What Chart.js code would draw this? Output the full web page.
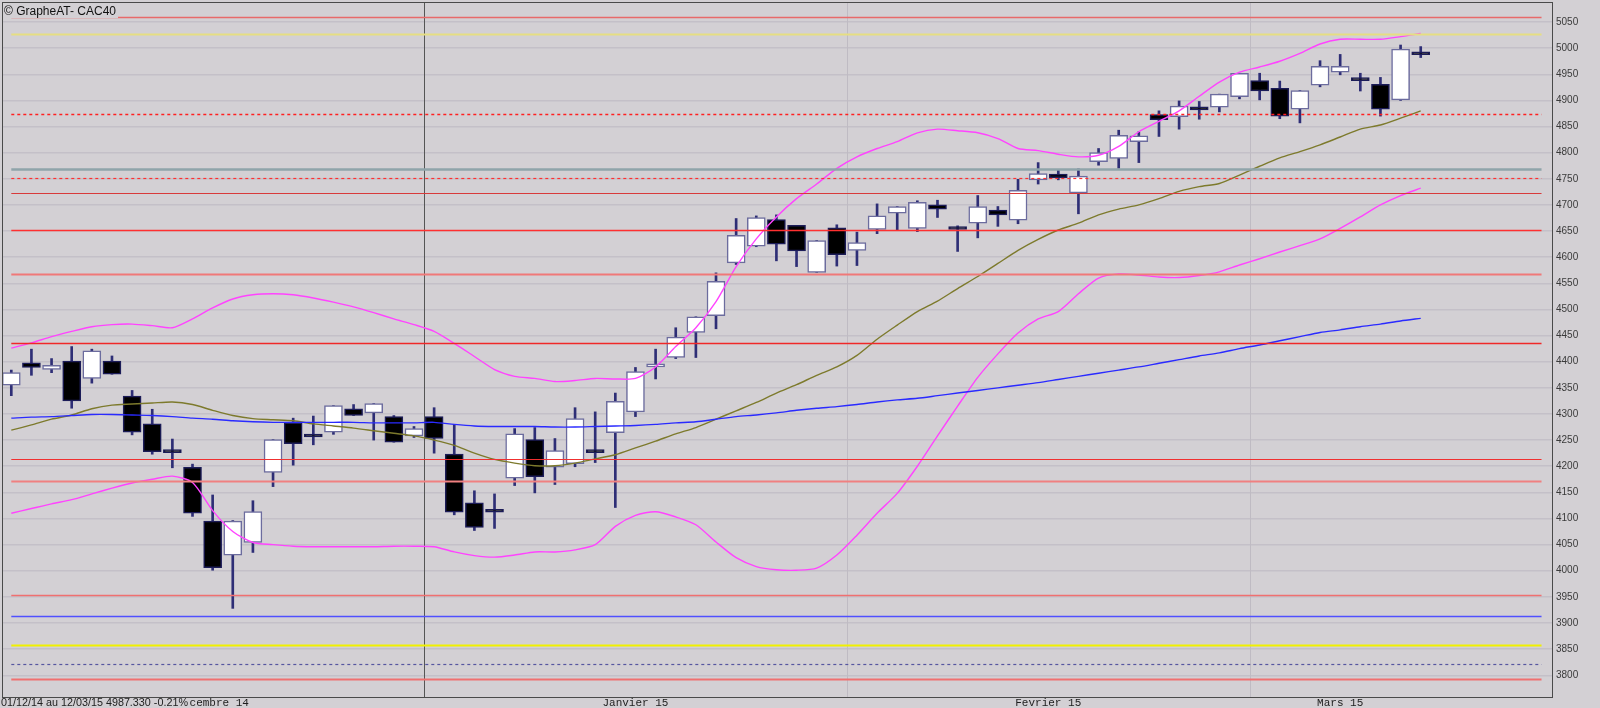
<!DOCTYPE html>
<html>
<head>
<meta charset="utf-8">
<script src="https://cdn.jsdelivr.net/npm/chart.js@4.4.1/dist/chart.umd.min.js"></script>
<style>
    html, body { margin: 0; padding: 0; background: #d3d0d4; }
    canvas { display: block; }
</style>
</head>
<body>
<canvas id="cac40-chart" width="1600" height="708"></canvas>
<script>
const dates = [
    '01/12/14', '02/12/14', '03/12/14', '04/12/14', '05/12/14', '08/12/14', '09/12/14', '10/12/14', '11/12/14', '12/12/14',
    '15/12/14', '16/12/14', '17/12/14', '18/12/14', '19/12/14', '22/12/14', '23/12/14', '24/12/14', '29/12/14', '30/12/14', '31/12/14',
    '02/01/15', '05/01/15', '06/01/15', '07/01/15', '08/01/15', '09/01/15', '12/01/15', '13/01/15', '14/01/15', '15/01/15',
    '16/01/15', '19/01/15', '20/01/15', '21/01/15', '22/01/15', '23/01/15', '26/01/15', '27/01/15', '28/01/15', '29/01/15', '30/01/15',
    '02/02/15', '03/02/15', '04/02/15', '05/02/15', '06/02/15', '09/02/15', '10/02/15', '11/02/15', '12/02/15', '13/02/15',
    '16/02/15', '17/02/15', '18/02/15', '19/02/15', '20/02/15', '23/02/15', '24/02/15', '25/02/15', '26/02/15', '27/02/15',
    '02/03/15', '03/03/15', '04/03/15', '05/03/15', '06/03/15', '09/03/15', '10/03/15', '11/03/15', '12/03/15'
];

const opens = [
    4355, 4398, 4385, 4401, 4368, 4401, 4334, 4281, 4228, 4198,
    4095, 4030, 4054, 4188, 4283, 4258, 4265, 4310, 4302, 4295, 4258,
    4295, 4223, 4130, 4114, 4177, 4251, 4198, 4205, 4228, 4264,
    4304, 4390, 4408, 4456, 4488, 4589, 4621, 4672, 4661, 4571, 4656,
    4613, 4653, 4684, 4655, 4700, 4655, 4665, 4690, 4671, 4748,
    4759, 4723, 4783, 4789, 4821, 4873, 4869, 4886, 4887, 4907,
    4938, 4923, 4883, 4929, 4954, 4940, 4931, 4901, 4992
];
const highs = [
    4384, 4424, 4406, 4429, 4424, 4411, 4345, 4309, 4252, 4204,
    4145, 4096, 4134, 4251, 4292, 4296, 4316, 4318, 4320, 4297, 4276,
    4312, 4280, 4153, 4147, 4272, 4274, 4253, 4312, 4304, 4340,
    4389, 4424, 4465, 4486, 4570, 4674, 4679, 4681, 4661, 4632, 4662,
    4648, 4702, 4697, 4708, 4709, 4660, 4718, 4697, 4749, 4781,
    4768, 4769, 4808, 4843, 4840, 4880, 4899, 4898, 4912, 4952,
    4952, 4937, 4919, 4976, 4988, 4952, 4944, 5006, 5003
];
const lows = [
    4335, 4374, 4379, 4311, 4359, 4376, 4260, 4223, 4197, 4104,
    4001, 3928, 4035, 4161, 4202, 4241, 4261, 4297, 4250, 4246, 4255,
    4225, 4107, 4077, 4081, 4163, 4149, 4165, 4199, 4207, 4121,
    4295, 4367, 4406, 4408, 4463, 4586, 4620, 4593, 4582, 4571, 4583,
    4584, 4645, 4652, 4649, 4676, 4611, 4637, 4659, 4664, 4740,
    4748, 4683, 4776, 4770, 4781, 4831, 4845, 4864, 4878, 4903,
    4901, 4865, 4857, 4926, 4949, 4918, 4870, 4900, 4982
];
const closes = [
    4379, 4389, 4393, 4325, 4421, 4376, 4265, 4228, 4226, 4110,
    4006, 4095, 4113, 4251, 4243, 4256, 4316, 4297, 4320, 4246, 4272,
    4253, 4112, 4083, 4112, 4262, 4180, 4230, 4291, 4226, 4324,
    4381, 4396, 4447, 4486, 4554, 4642, 4676, 4625, 4612, 4632, 4605,
    4628, 4679, 4697, 4705, 4692, 4653, 4697, 4681, 4728, 4760,
    4752, 4755, 4800, 4833, 4832, 4863, 4889, 4882, 4912, 4952,
    4918, 4870, 4919, 4965, 4965, 4938, 4883, 4998, 4987.33
];

// bandes de Bollinger + moyennes
const upperBand = [
    4426, 4436, 4448, 4458, 4467, 4471, 4472, 4469, 4465, 4482,
    4503, 4520, 4528, 4530, 4528, 4522, 4514, 4505, 4494, 4482, 4471,
    4458, 4435, 4410, 4385, 4372, 4368, 4362, 4364, 4368, 4367,
    4368, 4390, 4429, 4465, 4515, 4582, 4635, 4677, 4712, 4740, 4770,
    4792, 4808, 4821, 4838, 4845, 4842, 4838, 4827, 4808, 4804,
    4797, 4792, 4795, 4812, 4840, 4860, 4880, 4908, 4935, 4954,
    4964, 4975, 4990, 5008, 5017, 5017, 5017, 5022, 5028
];
const middleBand = [
    4269, 4279, 4290, 4298, 4310, 4317, 4319, 4321, 4323, 4318,
    4307, 4297, 4291, 4289, 4287, 4281, 4277, 4273, 4268, 4263, 4258,
    4250, 4240, 4225, 4213, 4206, 4201, 4201, 4206, 4214, 4222,
    4235, 4248, 4262, 4274, 4290, 4306, 4322, 4340, 4356, 4374, 4390,
    4412, 4443, 4470, 4496, 4516, 4540, 4563, 4588, 4613, 4634,
    4652, 4665, 4681, 4692, 4700, 4712, 4726, 4735, 4741, 4757,
    4774, 4790, 4802, 4815, 4830, 4845, 4853, 4866, 4880
];
const lowerBand = [
    4110, 4119, 4128, 4136, 4147, 4158, 4168, 4175, 4181, 4169,
    4115, 4075, 4054, 4050, 4047, 4046, 4046, 4046, 4046, 4047, 4047,
    4046, 4036, 4029, 4026, 4030, 4036, 4036, 4040, 4050, 4085,
    4106, 4113, 4103, 4088, 4055, 4025, 4008, 4002, 4001, 4005, 4030,
    4068, 4110, 4148, 4200, 4258, 4315, 4370, 4415, 4455, 4482,
    4496, 4530, 4560, 4568, 4566, 4562, 4561, 4565, 4572, 4585,
    4597, 4610, 4622, 4635, 4655, 4677, 4700, 4718, 4732
];
const longAverage = [
    4292, 4294, 4295, 4297, 4299, 4299, 4298, 4297, 4295, 4292,
    4290, 4287, 4285, 4284, 4284, 4284, 4284, 4284, 4283, 4283, 4283,
    4284, 4280, 4277, 4276, 4276, 4276, 4275, 4275, 4276, 4277,
    4278, 4280, 4283, 4285, 4290, 4295, 4298, 4302, 4307, 4311, 4314,
    4318, 4323, 4327, 4330, 4335, 4340, 4345, 4350, 4355, 4360,
    4366, 4372, 4378, 4384, 4390, 4397, 4404, 4411, 4417, 4425,
    4432, 4440, 4448, 4456, 4461, 4467, 4472, 4478, 4483
];

// niveaux horizontaux (supports / résistances)
const levelValues = [5060, 5028, 4874, 4769, 4751, 4722, 4652, 4568, 4435, 4214, 4172, 3954, 3913, 3858, 3821, 3792];

const yTicks = [
    3800, 3850, 3900, 3950, 4000, 4050, 4100, 4150, 4200, 4250, 4300, 4350, 4400,
    4450, 4500, 4550, 4600, 4650, 4700, 4750, 4800, 4850, 4900, 4950, 5000, 5050
];
const monthKeys = ['12/14', '01/15', '02/15', '03/15'];
const monthNames = ['Décembre 14', 'Janvier 15', 'Fevrier 15', 'Mars 15'];

const BG = '#d3d0d4';

const levelStyles = [
    { color: '#e86a6a', width: 1.5, dash: [] },
    { color: '#e6de82', width: 2, dash: [] },
    { color: '#ff2020', width: 1.5, dash: [3, 3] },
    { color: '#8fa4aa', width: 2.5, dash: [] },
    { color: '#ff3030', width: 1.2, dash: [3, 3] },
    { color: '#d83a3a', width: 1.2, dash: [] },
    { color: '#ff3030', width: 1.5, dash: [] },
    { color: '#f07878', width: 2, dash: [] },
    { color: '#f02828', width: 1.5, dash: [] },
    { color: '#f03030', width: 1.2, dash: [] },
    { color: '#f08080', width: 2, dash: [] },
    { color: '#f07070', width: 1.5, dash: [] },
    { color: '#5050ff', width: 1.5, dash: [] },
    { color: '#f0f000', width: 2, dash: [] },
    { color: '#5656a0', width: 1.2, dash: [3, 3] },
    { color: '#f07070', width: 2, dash: [] }
];

const idx = dates.map((d, i) => i);
const monthOf = dates.map(d => d.slice(3));
const monthCenters = monthKeys.map(k => {
    const first = monthOf.indexOf(k);
    const last = monthOf.lastIndexOf(k);
    return (first + last) / 2;
});
const monthBounds = idx.filter(i => i > 0 && monthOf[i] !== monthOf[i - 1]).map(i => i - 0.5);

const last = closes.length - 1;
const change = (closes[last] / closes[last - 1] - 1) * 100;
const infoText = dates[0] + ' au ' + dates[last] + ' ' + closes[last].toFixed(3) + ' ' + change.toFixed(2) + '%';

const asPoints = arr => arr.map((v, i) => ({ x: i, y: v }));

const backgroundPlugin = {
    id: 'background',
    beforeDraw(chart) {
        const ctx = chart.ctx;
        ctx.save();
        ctx.fillStyle = BG;
        ctx.fillRect(0, 0, chart.width, chart.height);
        ctx.restore();
    }
};

const separatorsPlugin = {
    id: 'separators',
    beforeDatasetsDraw(chart) {
        const { ctx, chartArea } = chart;
        const x = chart.scales.x;
        ctx.save();
        monthBounds.forEach((b, k) => {
            const px = Math.round(x.getPixelForValue(b)) + 0.5;
            ctx.strokeStyle = k === 0 ? '#555555' : '#bfbbc3';
            ctx.lineWidth = 1;
            ctx.beginPath();
            ctx.moveTo(px, chartArea.top);
            ctx.lineTo(px, chartArea.bottom);
            ctx.stroke();
        });
        ctx.restore();
    }
};

const levelsPlugin = {
    id: 'levels',
    afterDatasetsDraw(chart) {
        const ctx = chart.ctx;
        const x = chart.scales.x;
        const y = chart.scales.y;
        const x0 = x.getPixelForValue(0);
        const x1 = x.getPixelForValue(76);
        ctx.save();
        levelValues.forEach((v, k) => {
            const st = levelStyles[k];
            const py = Math.round(y.getPixelForValue(v)) + 0.5;
            ctx.strokeStyle = st.color;
            ctx.lineWidth = st.width;
            ctx.setLineDash(st.dash);
            ctx.beginPath();
            ctx.moveTo(x0, py);
            ctx.lineTo(x1, py);
            ctx.stroke();
        });
        ctx.restore();
    }
};

const framePlugin = {
    id: 'frame',
    afterDraw(chart) {
        const { ctx, chartArea } = chart;
        const x = chart.scales.x;
        ctx.save();
        ctx.strokeStyle = '#4a4a4a';
        ctx.lineWidth = 1;
        ctx.strokeRect(chartArea.left - 0.5, chartArea.top - 0.5,
            chartArea.right - chartArea.left + 1, chartArea.bottom - chartArea.top + 1);

        // titre
        ctx.font = '12px "Liberation Sans", Arial, sans-serif';
        const title = '© GrapheAT- CAC40';
        const tw = ctx.measureText(title).width;
        ctx.fillStyle = BG;
        ctx.fillRect(chartArea.left, chartArea.top, tw + 3, 15);
        ctx.fillStyle = '#111111';
        ctx.textBaseline = 'alphabetic';
        ctx.fillText(title, chartArea.left + 1, chartArea.top + 12);

        // mois sous l'axe
        ctx.font = '11px "Liberation Mono", "DejaVu Sans Mono", monospace';
        ctx.fillStyle = '#1e1e1e';
        ctx.textAlign = 'center';
        ctx.textBaseline = 'middle';
        monthCenters.forEach((c, k) => {
            ctx.fillText(monthNames[k], x.getPixelForValue(c), chartArea.bottom + 6);
        });

        // info période en bas (recouvre le début du premier mois)
        ctx.textAlign = 'left';
        ctx.font = '11px "Liberation Sans", Arial, sans-serif';
        ctx.fillStyle = BG;
        ctx.fillRect(0, chartArea.bottom + 1, 190, chart.height - chartArea.bottom - 1);
        ctx.fillStyle = '#222222';
        ctx.textBaseline = 'middle';
        ctx.fillText(infoText, 1, chartArea.bottom + 6, 187);
        ctx.restore();
    }
};

function buildCandleChart(container) {
    const bodyFill = idx.map(i => closes[i] >= opens[i] ? '#ffffff' : '#000000');
    const bodyBorder = idx.map(i => closes[i] >= opens[i] ? '#6c6c9e' : '#1c1c58');

    const config = {
        type: 'bar',
        data: {
            datasets: [
                {
                    label: 'Mèches',
                    data: idx.map(i => ({ x: i, y: [lows[i], highs[i]] })),
                    backgroundColor: '#2e2e76',
                    barThickness: 2,
                    grouped: false,
                    order: 4
                },
                {
                    label: 'Corps',
                    data: idx.map(i => ({ x: i, y: [opens[i], closes[i]] })),
                    backgroundColor: bodyFill,
                    borderColor: bodyBorder,
                    borderWidth: 1.5,
                    borderSkipped: false,
                    barThickness: 18,
                    minBarLength: 3,
                    grouped: false,
                    order: 3
                },
                {
                    type: 'line',
                    label: 'Moyenne longue',
                    data: asPoints(longAverage),
                    borderColor: '#2a2aff',
                    borderWidth: 1.4,
                    pointRadius: 0,
                    tension: 0.25,
                    order: 1
                },
                {
                    type: 'line',
                    label: 'Bollinger milieu',
                    data: asPoints(middleBand),
                    borderColor: '#7d7a2c',
                    borderWidth: 1.4,
                    pointRadius: 0,
                    tension: 0.25,
                    order: 1
                },
                {
                    type: 'line',
                    label: 'Bollinger haut',
                    data: asPoints(upperBand),
                    borderColor: '#ff44ff',
                    borderWidth: 1.4,
                    pointRadius: 0,
                    tension: 0.25,
                    order: 1
                },
                {
                    type: 'line',
                    label: 'Bollinger bas',
                    data: asPoints(lowerBand),
                    borderColor: '#ff44ff',
                    borderWidth: 1.4,
                    pointRadius: 0,
                    tension: 0.25,
                    order: 1
                }
            ]
        },
        options: {
            responsive: false,
            animation: false,
            devicePixelRatio: 1,
            layout: { padding: { top: 3, left: 3, right: 0, bottom: 0 } },
            plugins: {
                legend: { display: false },
                tooltip: { enabled: false },
                title: { display: false }
            },
            scales: {
                x: {
                    type: 'linear',
                    min: -0.412,
                    max: 76.52,
                    offset: false,
                    grid: { display: false },
                    border: { display: false },
                    ticks: { display: false },
                    afterFit: scale => {
                        scale.height = 11;
                        scale.paddingLeft = 0;
                        scale.paddingRight = 0;
                    }
                },
                y: {
                    type: 'linear',
                    position: 'right',
                    min: 3758.4,
                    max: 5086.4,
                    afterBuildTicks: scale => {
                        scale.ticks = yTicks.map(v => ({ value: v }));
                    },
                    afterFit: scale => {
                        scale.width = 48;
                        scale.paddingTop = 0;
                        scale.paddingBottom = 0;
                    },
                    grid: { color: '#c4c0c8', lineWidth: 1.5, drawTicks: false },
                    border: { display: false },
                    ticks: {
                        padding: 4,
                        color: '#3a3a3a',
                        font: { family: '"Liberation Sans", Arial, sans-serif', size: 10 },
                        callback: value => String(value)
                    }
                }
            }
        },
        plugins: [backgroundPlugin, separatorsPlugin, levelsPlugin, framePlugin]
    };

    new Chart(container, config);
}

addEventListener('DOMContentLoaded', () => {
    const container = document.getElementById('cac40-chart');
    if (container) {
        buildCandleChart(container);
    }
});
</script>
</body>
</html>
